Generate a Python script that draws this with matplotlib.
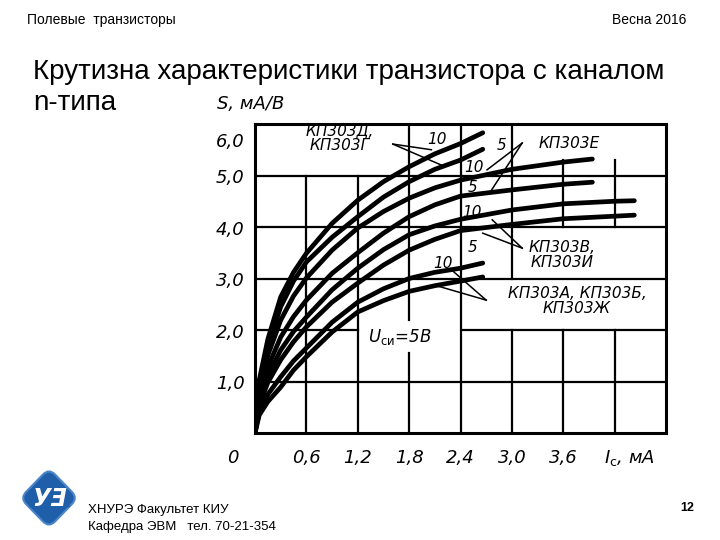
import matplotlib.pyplot as plt
from matplotlib.patches import FancyBboxPatch
from matplotlib.transforms import Affine2D

# curve data (Ic, mA -> S, mA/V)
x_short = [0, 0.05, 0.15, 0.3, 0.45, 0.6, 0.9, 1.2, 1.5, 1.8, 2.1, 2.4, 2.66]
x_mid = [0, 0.05, 0.15, 0.3, 0.45, 0.6, 0.9, 1.2, 1.5, 1.8, 2.1, 2.4, 3.0, 3.6, 3.94]
x_long = [0, 0.05, 0.15, 0.3, 0.45, 0.6, 0.9, 1.2, 1.5, 1.8, 2.1, 2.4, 3.0, 3.6, 4.2, 4.43]

s_dg_10 = [0, 1.03, 1.82, 2.64, 3.12, 3.49, 4.07, 4.52, 4.88, 5.17, 5.42, 5.62, 5.83]
s_dg_5 = [0, 0.96, 1.69, 2.45, 2.95, 3.32, 3.8, 4.2, 4.58, 4.88, 5.12, 5.3, 5.51]
s_e_10 = [0, 0.85, 1.51, 2.19, 2.66, 3.01, 3.55, 3.98, 4.3, 4.56, 4.76, 4.91, 5.12, 5.26, 5.32]
s_e_5 = [0, 0.73, 1.28, 1.86, 2.26, 2.58, 3.1, 3.5, 3.88, 4.2, 4.43, 4.6, 4.72, 4.83, 4.87]
s_vi_10 = [0, 0.63, 1.11, 1.61, 1.97, 2.25, 2.78, 3.2, 3.56, 3.85, 4.02, 4.15, 4.33, 4.45, 4.5, 4.51]
s_vi_5 = [0, 0.55, 0.98, 1.42, 1.77, 2.06, 2.54, 2.91, 3.26, 3.55, 3.76, 3.93, 4.05, 4.16, 4.21, 4.23]
s_abzh_10 = [0, 0.43, 0.75, 1.09, 1.4, 1.65, 2.15, 2.54, 2.8, 3.0, 3.12, 3.2, 3.3]
s_abzh_5 = [0, 0.35, 0.61, 0.89, 1.22, 1.48, 1.96, 2.35, 2.57, 2.75, 2.86, 2.95, 3.03]

x_ticks = [0.6, 1.2, 1.8, 2.4, 3.0, 3.6]
x_ticklabels = ['0,6', '1,2', '1,8', '2,4', '3,0', '3,6']
y_ticks = [1, 2, 3, 4, 5, 6]
y_ticklabels = ['1,0', '2,0', '3,0', '4,0', '5,0', '6,0']

W, H = 720, 540
fig = plt.figure(figsize=(7.2, 5.4), dpi=100)


def fx(px):
    return px / W


def fy(py):
    return 1 - py / H


slide_font = ['Liberation Sans', 'DejaVu Sans']
chart_font = {'family': 'DejaVu Sans', 'style': 'italic'}

# slide header / title / footer
fig.text(fx(27), fy(20), 'Полевые  транзисторы', fontsize=10, family=slide_font, va='center')
fig.text(fx(686), fy(20), 'Весна 2016', fontsize=10, family=slide_font, va='center', ha='right')
fig.text(fx(33), fy(72), 'Крутизна характеристики транзистора с каналом',
         fontsize=20, family=slide_font, va='center')
fig.text(fx(33), fy(103), 'n-типа', fontsize=20, family=slide_font, va='center')
fig.text(fx(88), fy(510), 'ХНУРЭ Факультет КИУ', fontsize=9.5, family=slide_font, va='center')
fig.text(fx(88), fy(527), 'Кафедра ЭВМ   тел. 70-21-354', fontsize=9.5, family=slide_font, va='center')
fig.text(fx(687), fy(508), '12', fontsize=9, family=slide_font, weight='bold', va='center', ha='center')

# logo
lax = fig.add_axes([fx(15), fy(533), 68 / W, 70 / H])
lax.set_xlim(-1, 1)
lax.set_ylim(-1, 1)
lax.axis('off')
diamond = FancyBboxPatch((-0.6, -0.6), 1.2, 1.2, boxstyle='round,pad=0,rounding_size=0.25',
                         facecolor='#1f5ea8', edgecolor='#4a86c8', lw=1.5,
                         transform=Affine2D().rotate_deg(45) + lax.transData)
lax.add_patch(diamond)
lax.text(0.02, -0.02, 'УƎ', color='white', fontsize=17, weight='bold', style='italic',
         ha='center', va='center')
for yy in [-0.22, -0.08, 0.06, 0.2]:
    lax.plot([-0.6, 0.6], [yy, yy], color='#1f5ea8', lw=0.8)

# chart
ax = fig.add_axes([fx(255), fy(433), 411 / W, 309 / H])
ax.set_xlim(0, 4.8)
ax.set_ylim(0, 6)
ax.set_xticks([])
ax.set_yticks([])
for sp in ax.spines.values():
    sp.set_linewidth(2.2)

grid_kw = dict(color='black', lw=1.6, zorder=1)
# vertical grid segments (gaps where the original has text boxes)
for xv, y0, y1 in [(0.6, 0, 5), (1.2, 0, 5), (1.8, 0, 1.55), (1.8, 2.2, 6), (2.4, 0, 6),
                   (3.0, 0, 2), (3.0, 3, 6), (3.6, 0, 2), (3.6, 4, 5.3), (4.2, 0, 2), (4.2, 4, 5.3)]:
    ax.plot([xv, xv], [y0, y1], **grid_kw)
for yh, x0, x1 in [(1, 0, 4.8), (2, 0, 1.2), (2, 2.42, 4.8), (3, 0, 4.8), (4, 0, 4.8), (5, 0, 4.8)]:
    ax.plot([x0, x1], [yh, yh], **grid_kw)

curve_kw = dict(color='black', lw=3.4, solid_capstyle='round', solid_joinstyle='round', zorder=3)
ax.plot(x_short, s_dg_10, **curve_kw)
ax.plot(x_short, s_dg_5, **curve_kw)
ax.plot(x_mid, s_e_10, **curve_kw)
ax.plot(x_mid, s_e_5, **curve_kw)
ax.plot(x_long, s_vi_10, **curve_kw)
ax.plot(x_long, s_vi_5, **curve_kw)
ax.plot(x_short, s_abzh_10, **curve_kw)
ax.plot(x_short, s_abzh_5, **curve_kw)

# tick labels
for v, lab in zip(x_ticks, x_ticklabels):
    ax.text(v, -0.49, lab, fontsize=13, ha='center', va='center', clip_on=False, **chart_font)
ax.text(-0.26, -0.49, '0', fontsize=13, ha='center', va='center', clip_on=False, **chart_font)
ax.text(4.37, -0.49, r'$I_{\rm c}$, мА', fontsize=13, ha='center', va='center', clip_on=False,
        **chart_font)
for v, lab in zip(y_ticks, y_ticklabels):
    ax.text(-0.29, min(v, 5.7) - 0.05, lab, fontsize=13, ha='center', va='center', clip_on=False,
            **chart_font)
ax.text(-0.05, 6.39, 'S, мА/В', fontsize=13, ha='center', va='center', clip_on=False, **chart_font)

# curve annotations
lab_kw = dict(fontsize=11, ha='center', va='center', zorder=4, **chart_font)
ax.text(0.99, 5.72, 'КП303Д,\nКП303Г', linespacing=1.0, **lab_kw)
ax.text(3.67, 5.63, 'КП303Е', **lab_kw)
ax.text(3.59, 3.45, 'КП303В,\nКП303И', linespacing=1.0, **lab_kw)
ax.text(3.76, 2.56, 'КП303А, КП303Б,\nКП303Ж', linespacing=1.0, **lab_kw)
ax.text(1.69, 1.86, r'$U_{\rm си}$=5В', fontsize=12, ha='center', va='center', zorder=4,
        **chart_font)
for xt, yt, t in [(2.13, 5.69, '10'), (2.88, 5.59, '5'), (2.56, 5.16, '10'), (2.54, 4.76, '5'),
                  (2.54, 4.29, '10'), (2.54, 3.61, '5'), (2.19, 3.30, '10')]:
    ax.text(xt, yt, t, **lab_kw)

# leader lines
lead_kw = dict(color='black', lw=1.1, zorder=2)
for (x0, y0), ends in [((1.61, 5.61), [(2.06, 5.5), (2.18, 5.2)]),
                       ((3.12, 5.63), [(2.71, 5.11), (2.74, 4.66)]),
                       ((3.12, 3.59), [(2.77, 4.14), (2.66, 3.88)]),
                       ((2.7, 2.58), [(2.3, 3.16), (2.12, 2.86)])]:
    for x1, y1 in ends:
        ax.plot([x0, x1], [y0, y1], **lead_kw)

plt.savefig('out.png', dpi=100)
